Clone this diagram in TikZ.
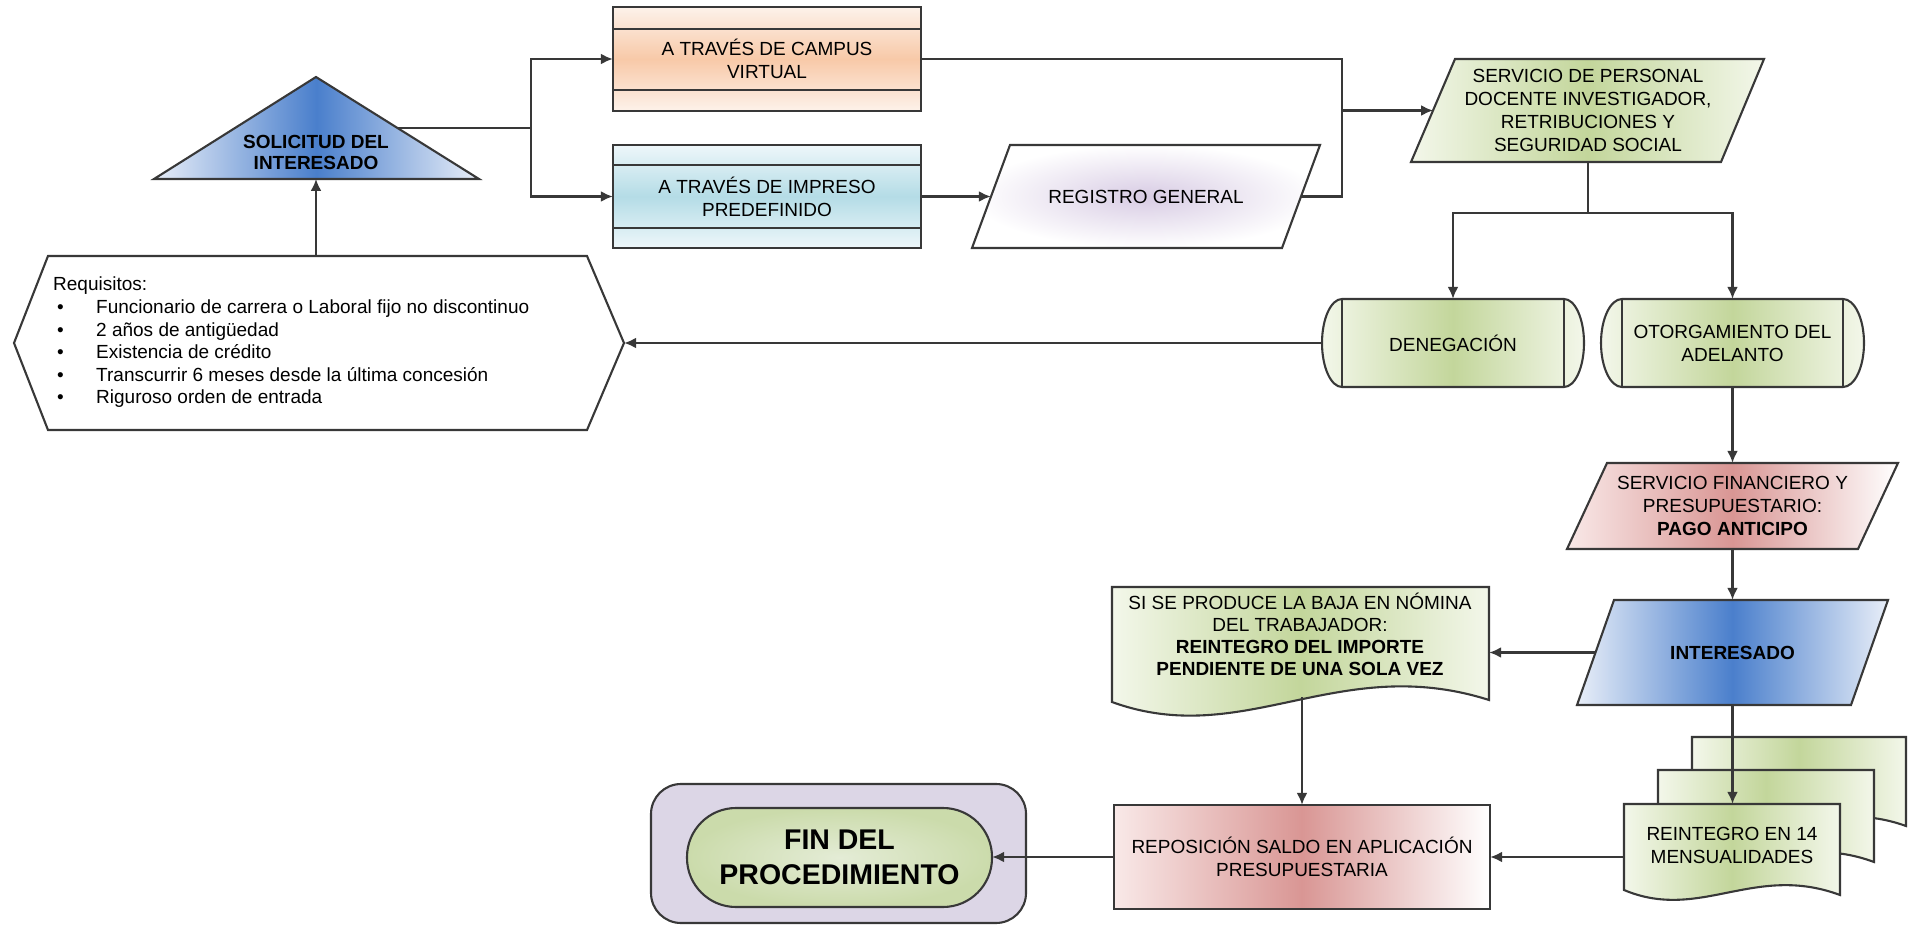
\documentclass[tikz,border=0pt]{standalone}
\usepackage{fontspec}
\setmainfont{Liberation Sans}
\usetikzlibrary{arrows.meta,calc}
\definecolor{linec}{HTML}{383838}
\definecolor{oMid}{HTML}{F8C9A8}
\definecolor{oEdge}{HTML}{FDF2EA}
\definecolor{cMid}{HTML}{B4DCE6}
\definecolor{cEdge}{HTML}{EEF7FA}
\definecolor{gMid}{HTML}{C3D69B}
\definecolor{gEdge}{HTML}{F3F7EA}
\definecolor{bMid}{HTML}{4A7FCC}
\definecolor{bEdge}{HTML}{E8EEF8}
\definecolor{rMid}{HTML}{D99694}
\definecolor{rEdge}{HTML}{F9E9E8}
\definecolor{lav}{HTML}{DCD6E6}
\definecolor{regC}{HTML}{D8CCE4}
\definecolor{pillIn}{HTML}{E4ECD6}
\definecolor{pillOut}{HTML}{CBDBAB}
\begin{document}
\begin{tikzpicture}[x=1pt,y=-1pt,
 shp/.style={draw=linec, line width=2.1pt},
 conn/.style={draw=linec, line width=2.1pt},
 arr/.style={conn, -{Latex[length=12pt,width=11pt]}},
 txt/.style={font=\fontsize{19}{23}\selectfont, align=center, inner sep=0pt, text=black},
 box0/.style={draw=none, inner sep=0pt, shape=rectangle},
 grn/.style={left color=gEdge, right color=gEdge, middle color=gMid},
 blu/.style={left color=bEdge, right color=bEdge, middle color=bMid},
 redsh/.style={left color=rEdge, right color=white, middle color=rMid},
 orsh/.style={top color=oEdge, bottom color=oEdge, middle color=oMid},
 cysh/.style={top color=cEdge, bottom color=cEdge, middle color=cMid},
]
\useasboundingbox (0,0) rectangle (1908,925);

% ---------- shapes ----------
% triangle
\path[shp, blu] (316,77) -- (479,179) -- (154,179) -- cycle;
% hexagon
\draw[shp, fill=white] (48,256) -- (587,256) -- (624,343) -- (587,430) -- (48,430) -- (14,343) -- cycle;
% campus / impreso
\path[shp, orsh] (613,7) rectangle (921,111);
\draw[shp] (613,29) -- (921,29) (613,90) -- (921,90);
\path[shp, cysh] (613,145) rectangle (921,248);
\draw[shp] (613,165) -- (921,165) (613,228) -- (921,228);
% registro
\path[shp, inner color=regC, outer color=white] (1010,145) -- (1320,145) -- (1282,248) -- (972,248) -- cycle;
% servicio personal
\path[shp, grn] (1455,59) -- (1764,59) -- (1721,162) -- (1411,162) -- cycle;
% denegacion
\path[shp, grn] (1342,299) -- (1564,299) arc[start angle=90, end angle=-90, x radius=20pt, y radius=44pt] -- (1342,387) arc[start angle=270, end angle=90, x radius=20pt, y radius=44pt] -- cycle;
\draw[shp] (1342,299) -- (1342,387) (1564,299) -- (1564,387);
% otorgamiento
\path[shp, grn] (1622,299) -- (1843,299) arc[start angle=90, end angle=-90, x radius=21pt, y radius=44pt] -- (1622,387) arc[start angle=270, end angle=90, x radius=21pt, y radius=44pt] -- cycle;
\draw[shp] (1622,299) -- (1622,387) (1843,299) -- (1843,387);
% financiero
\path[shp, redsh] (1607,463) -- (1898,463) -- (1858,549) -- (1567,549) -- cycle;
% interesado
\path[shp, blu] (1614,600) -- (1888,600) -- (1851,705) -- (1577,705) -- cycle;
% document
\path[shp, grn] (1112,587) -- (1489,587) -- (1489,700) .. controls (1338,652) and (1244,750) .. (1112,702) -- cycle;
% multi document
\path[shp, grn] (1692,737) -- (1906,737) -- (1906,826) .. controls (1820,795) and (1767,855) .. (1692,824) -- cycle;
\path[shp, grn] (1658,770) -- (1874,770) -- (1874,862) .. controls (1788,830) and (1734,890) .. (1658,857) -- cycle;
\path[shp, grn] (1624,804) -- (1840,804) -- (1840,895) .. controls (1754,863) and (1700,922) .. (1624,890) -- cycle;
% reposicion
\path[shp, redsh] (1114,805) rectangle (1490,909);
% fin
\draw[shp, fill=lav, rounded corners=30pt] (651,784) rectangle (1026,923);
\path[shp, inner color=pillIn, outer color=pillOut, rounded corners=49pt] (687,808) rectangle (992,907);

% ---------- nodes ----------
\node[txt, font=\fontsize{19}{21}\selectfont\bfseries] (sol) at (316,152) {SOLICITUD DEL\\INTERESADO};
\coordinate (solbase) at (316,179);
\coordinate (solright) at (398,128);
\coordinate (split1) at (531,128);

\node[box0, minimum width=610pt, minimum height=174pt] (req) at (319,343) {};
\node[txt, align=left, anchor=north west, font=\fontsize{19}{22.6}\selectfont] (reqtxt) at (53,277) {Requisitos:\\
\hspace*{4pt}\makebox[39pt][l]{\textbullet}Funcionario de carrera o Laboral fijo no discontinuo\\
\hspace*{4pt}\makebox[39pt][l]{\textbullet}2 años de antigüedad\\
\hspace*{4pt}\makebox[39pt][l]{\textbullet}Existencia de crédito\\
\hspace*{4pt}\makebox[39pt][l]{\textbullet}Transcurrir 6 meses desde la última concesión\\
\hspace*{4pt}\makebox[39pt][l]{\textbullet}Riguroso orden de entrada};

\node[box0, txt, minimum width=308pt, minimum height=104pt] (campus) at (767,59) {A TRAVÉS DE CAMPUS\\VIRTUAL};
\node[box0, txt, minimum width=308pt, minimum height=103pt] (impreso) at (767,196.5) {A TRAVÉS DE IMPRESO\\PREDEFINIDO};
\node[box0, txt, minimum width=310pt, minimum height=103pt] (reg) at (1146,196.5) {REGISTRO GENERAL};
\coordinate (merge) at (1342,110.5);
\node[box0, txt, minimum width=309.5pt, minimum height=103pt] (srv) at (1588,110.5) {SERVICIO DE PERSONAL\\DOCENTE INVESTIGADOR,\\RETRIBUCIONES Y\\SEGURIDAD SOCIAL};
\coordinate (split2) at (1588,213);
\node[box0, txt, minimum width=262pt, minimum height=88pt] (den) at (1453,343) {DENEGACIÓN};
\node[box0, txt, minimum width=263pt, minimum height=88pt] (oto) at (1732.5,343) {OTORGAMIENTO DEL\\ADELANTO};
\node[box0, txt, minimum width=291pt, minimum height=86pt] (fin) at (1732.5,506) {SERVICIO FINANCIERO Y\\PRESUPUESTARIO:\\\textbf{PAGO ANTICIPO}};
\node[box0, txt, minimum width=274pt, minimum height=105pt] (int) at (1732.5,652.5) {\textbf{INTERESADO}};
\node[box0, minimum width=377pt, minimum height=113pt] (doc) at (1300.5,643.5) {};
\node[txt, font=\fontsize{19}{22}\selectfont] (doctxt) at (1300,634) {SI SE PRODUCE LA BAJA EN NÓMINA\\DEL TRABAJADOR:\\\textbf{REINTEGRO DEL IMPORTE}\\\textbf{PENDIENTE DE UNA SOLA VEZ}};
\coordinate (docbot) at (1302,697);
\node[box0, txt, minimum width=216pt, minimum height=82pt] (mdoc) at (1732,845) {REINTEGRO EN 14\\MENSUALIDADES};
\node[box0, txt, minimum width=376pt, minimum height=104pt] (rep) at (1302,857) {REPOSICIÓN SALDO EN APLICACIÓN\\PRESUPUESTARIA};
\node[box0, txt, minimum width=305pt, minimum height=99pt, font=\fontsize{28.5}{35}\selectfont\bfseries] (endn) at (839.5,857.5) {FIN DEL\\PROCEDIMIENTO};

% ---------- connectors ----------
\draw[arr] (solbase |- req.north) -- (solbase);
\draw[conn] (solright) -- (split1);
\draw[arr] (split1) |- (campus.west);
\draw[arr] (split1) |- (impreso.west);
\draw[arr] (impreso.east) -- (reg.west);
\draw[conn] (campus.east) -| (merge);
\draw[conn] (reg.east) -| (merge);
\draw[arr] (merge) -- (srv.west);
\draw[conn] (srv.south) -- (split2);
\draw[arr] (split2) -| (den.north);
\draw[arr] (split2) -| (oto.north);
\draw[arr] (den.west) -- (req.east);
\draw[arr] (oto.south) -- (oto.south |- fin.north);
\draw[arr] (fin.south) -- (int.north);
\draw[arr] (int.west) -- (int.west -| doc.east);
\draw[arr] (int.south) -- (int.south |- mdoc.north);
\draw[arr] (docbot) -- (rep.north);
\draw[arr] (rep.east -| mdoc.west) -- (rep.east);
\draw[arr] (rep.west) -- (rep.west -| endn.east);
\end{tikzpicture}
\end{document}
